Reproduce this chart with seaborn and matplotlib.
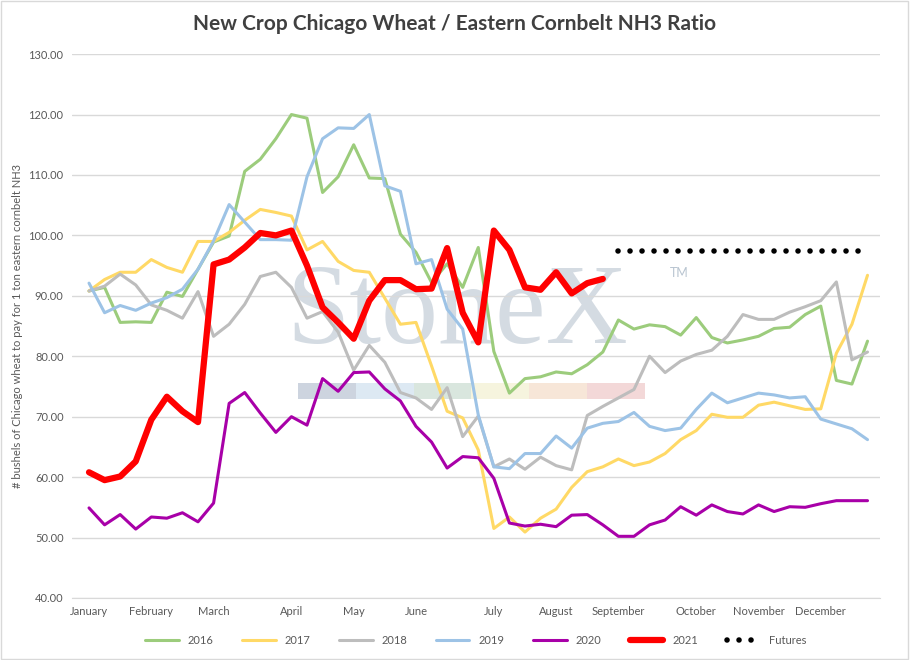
import numpy as np
import pandas as pd
import matplotlib
matplotlib.use('Agg')
import matplotlib.pyplot as plt
import seaborn as sns
from matplotlib.patches import Rectangle

# weekly ratio values, week 0 = first week of January
y2016 = [90.8, 91.4, 85.6, 85.7, 85.6, 90.6, 89.9, 94.4, 98.9, 99.9, 110.6, 112.6, 116.0,
         120.0, 119.4, 107.1, 109.7, 115.0, 109.5, 109.4, 100.2, 97.2, 92.2, 95.3, 91.4, 98.0,
         80.8, 73.9, 76.3, 76.6, 77.4, 77.1, 78.6, 80.7, 86.0, 84.5, 85.2, 84.9, 83.5, 86.4,
         83.1, 82.2, 82.7, 83.3, 84.6, 84.8, 86.9, 88.3, 76.0, 75.4, 82.5]
y2017 = [90.8, 92.7, 93.9, 93.9, 96.0, 94.7, 93.9, 99.0, 99.0, 100.5, 102.5, 104.3, 103.8,
         103.2, 97.6, 99.0, 95.7, 94.2, 93.9, 89.6, 85.3, 85.6, 78.4, 70.9, 69.8, 64.5,
         51.5, 53.4, 50.9, 53.2, 54.7, 58.3, 60.9, 61.7, 63.0, 61.9, 62.5, 63.9, 66.2, 67.7,
         70.4, 69.9, 69.9, 71.9, 72.4, 71.8, 71.2, 71.3, 80.5, 85.3, 93.4]
y2018 = [90.8, 91.6, 93.6, 91.8, 88.5, 87.6, 86.3, 90.7, 83.3, 85.3, 88.6, 93.2, 93.9,
         91.4, 86.3, 87.4, 84.0, 77.7, 81.8, 79.0, 74.0, 73.1, 71.2, 74.8, 66.7, 70.1,
         61.7, 63.0, 61.3, 63.3, 61.9, 61.2, 70.2, 71.7, 73.1, 74.5, 80.0, 77.3, 79.2, 80.3,
         81.0, 83.3, 86.9, 86.1, 86.1, 87.3, 88.2, 89.2, 92.3, 79.4, 80.7]
y2019 = [92.1, 87.2, 88.4, 87.6, 88.8, 89.7, 91.1, 94.4, 99.1, 105.1, 102.2, 99.3, 99.3,
         99.2, 109.7, 116.0, 117.8, 117.7, 120.0, 108.2, 107.3, 95.3, 96.0, 87.8, 84.5, 70.3,
         61.7, 61.4, 63.9, 63.9, 66.8, 64.8, 68.1, 68.9, 69.2, 70.7, 68.4, 67.7, 68.1, 71.2,
         73.9, 72.3, 73.1, 73.9, 73.6, 73.1, 73.3, 69.6, 68.8, 68.0, 66.2]
y2020 = [54.9, 52.1, 53.8, 51.4, 53.4, 53.2, 54.1, 52.6, 55.7, 72.2, 74.0, 70.6, 67.4,
         70.0, 68.6, 76.3, 74.2, 77.3, 77.4, 74.6, 72.6, 68.4, 65.8, 61.5, 63.4, 63.2,
         59.8, 52.4, 51.9, 52.2, 51.8, 53.7, 53.8, 52.1, 50.2, 50.2, 52.1, 52.9, 55.1, 53.7,
         55.4, 54.3, 53.9, 55.4, 54.3, 55.1, 55.0, 55.6, 56.1, 56.1, 56.1]
y2021 = [60.8, 59.5, 60.1, 62.6, 69.5, 73.3, 70.9, 69.1, 95.2, 96.0, 98.0, 100.4, 100.0,
         100.8, 95.0, 88.1, 85.6, 82.9, 89.2, 92.6, 92.6, 91.1, 91.2, 97.9, 87.2, 82.3,
         100.8, 97.6, 91.4, 91.0, 93.9, 90.4, 92.1, 92.8]
futures = [97.4] * 17   # weeks 34..50

months = ['January', 'February', 'March', 'April', 'May', 'June', 'July',
          'August', 'September', 'October', 'November', 'December']
month_weeks = [0, 4, 8, 13, 17, 21, 26, 30, 34, 39, 43, 47]

series = {'2016': y2016, '2017': y2017, '2018': y2018, '2019': y2019,
          '2020': y2020, '2021': y2021}
rows = []
for name, vals in series.items():
    for i, v in enumerate(vals):
        rows.append((name, i, v))
df = pd.DataFrame(rows, columns=['year', 'week', 'ratio'])

colors = {'2016': '#9ccc7c', '2017': '#ffd966', '2018': '#bdbdbd',
          '2019': '#9dc3e6', '2020': '#a800a8', '2021': '#ff0000'}
widths = {'2016': 2.2, '2017': 2.2, '2018': 2.2, '2019': 2.2, '2020': 2.2, '2021': 4.5}

sns.set_style('white')
plt.rcParams['font.family'] = ['Lato', 'DejaVu Sans']

fig = plt.figure(figsize=(9.1, 6.6), dpi=100)
ax = fig.add_axes([0.079, 0.094, 0.888, 0.824])

# watermark
ax.text(0.477, 0.52, 'StoneX', transform=ax.transAxes, fontsize=82, family='Liberation Serif',
        color='#b8c4d0', alpha=0.6, ha='center', va='center', zorder=0)
ax.text(0.74, 0.59, 'TM', transform=ax.transAxes, fontsize=9, color='#b8c4d0', zorder=0)
band = ['#b8c2d2', '#cfe0ee', '#c9dcd0', '#f3f0d0', '#f5dcc8', '#eec8c8']
for k, c in enumerate(band):
    ax.add_patch(Rectangle((0.28 + k * 0.0715, 0.365), 0.0715, 0.03, transform=ax.transAxes,
                           color=c, alpha=0.7, lw=0, zorder=0))

for name in series:
    sub = df[df['year'] == name]
    sns.lineplot(data=sub, x='week', y='ratio', ax=ax, color=colors[name],
                 linewidth=widths[name], label=name, zorder=3 if name == '2021' else 2)

fx = np.arange(34, 34 + len(futures))
ax.plot(fx, futures, linestyle=(0, (0.01, 2.15)), dash_capstyle='round', color='black',
        linewidth=4, label='Futures')

ax.set_xlim(-1.1, 50.8)
ax.set_ylim(40, 130)
ax.set_yticks(np.arange(40, 131, 10))
ax.set_yticklabels([f'{v:.2f}' for v in np.arange(40, 131, 10)], fontsize=8, color='#595959')
ax.set_xticks(month_weeks)
ax.set_xticklabels(months, fontsize=8, color='#595959')
ax.tick_params(length=0, pad=6)
ax.grid(axis='y', color='#d9d9d9', linewidth=1)
for s in ['top', 'right', 'left']:
    ax.spines[s].set_visible(False)
ax.spines['bottom'].set_color('#d9d9d9')
ax.set_xlabel('')
ax.set_ylabel('# bushels of Chicago wheat to pay for 1 ton eastern cornbelt NH3',
              fontsize=8, color='#595959')

ax.legend(loc='upper center', bbox_to_anchor=(0.5, -0.05), ncol=7, frameon=False,
          fontsize=8, handlelength=3, columnspacing=2.6, labelcolor='#595959')
fig.text(0.5, 0.963, 'New Crop Chicago Wheat / Eastern Cornbelt NH3 Ratio', ha='center',
         va='center', fontsize=15, fontweight='bold', color='#404040')
fig.patches.append(Rectangle((0.001, 0.001), 0.997, 0.997, transform=fig.transFigure,
                             fill=False, edgecolor='#d9d9d9', lw=1))

fig.savefig('out.png', dpi=100)
